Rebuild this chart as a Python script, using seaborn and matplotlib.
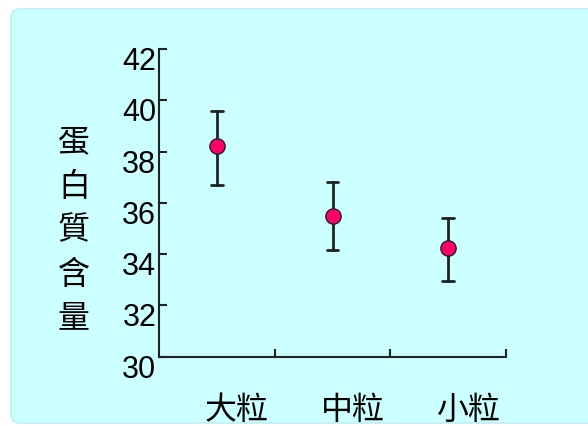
import pandas as pd
import seaborn as sns
import matplotlib.pyplot as plt
from matplotlib.patches import FancyBboxPatch
from matplotlib.transforms import ScaledTranslation

# values
sizes = ['大粒', '中粒', '小粒']
protein_mean = [38.2, 35.5, 34.25]
protein_low = [36.7, 34.15, 32.95]
protein_high = [39.6, 36.8, 35.4]
ylabel_chars = ['蛋', '白', '質', '含', '量']
yticks = [30, 32, 34, 36, 38, 40, 42]

sns.set_theme(style='ticks')
plt.rcParams['font.family'] = ['Noto Sans CJK TC', 'DejaVu Sans']

# long table: low / mean / high per category -> median = mean, min/max = bar ends
rows = []
for s, lo, m, hi in zip(sizes, protein_low, protein_mean, protein_high):
    for v in (lo, m, hi):
        rows.append({'size': s, 'protein': v})
df = pd.DataFrame(rows)

fig = plt.figure(figsize=(5.88, 4.27), dpi=100)
fig.patch.set_facecolor('white')

bg = FancyBboxPatch((0.11, 0.03), 6.0, 4.14,
                    boxstyle='round,pad=0,rounding_size=0.09',
                    transform=fig.dpi_scale_trans,
                    facecolor='#ccffff', edgecolor='#bfeef5', linewidth=1.2,
                    zorder=-10)
fig.add_artist(bg)

ax = fig.add_axes([159 / 588, 69.5 / 427, 347 / 588, 307.5 / 427])
ax.patch.set_alpha(0)

sns.pointplot(data=df, x='size', y='protein', estimator='median',
              errorbar=lambda v: (v.min(), v.max()),
              linestyle='none', marker='o', markersize=11,
              color='#ff0066', markeredgecolor='#222222', markeredgewidth=1,
              capsize=0.1, err_kws={'color': '#222222', 'linewidth': 2, 'zorder': 1},
              zorder=3, ax=ax)

ax.set_xlim(-0.5, 2.5)
ax.set_ylim(30, 42)
ax.set_yticks(yticks)
ax.set_xticks([0.5, 1.5, 2.5], labels=['', '', ''])
ax.set_xticks([0, 1, 2], labels=sizes, minor=True)

ax.tick_params(axis='x', which='major', direction='in', length=6, width=1.5, color='#222222')
ax.tick_params(axis='x', which='minor', length=0, pad=26, labelsize=23, labelcolor='black')
ax.tick_params(axis='y', direction='in', length=6, width=1.5, pad=2, labelsize=22,
               color='#222222', labelcolor='black')

sns.despine(ax=ax)
for side in ['left', 'bottom']:
    ax.spines[side].set_linewidth(1.5)
    ax.spines[side].set_color('#222222')

down = ScaledTranslation(0, -8.5 / 100, fig.dpi_scale_trans)
for lbl in ax.get_yticklabels():
    lbl.set_fontfamily(['Liberation Sans', 'DejaVu Sans'])
    lbl.set_transform(lbl.get_transform() + down)
right = ScaledTranslation(20 / 100, 0, fig.dpi_scale_trans)
for lbl in ax.get_xticklabels(minor=True):
    lbl.set_transform(lbl.get_transform() + right)

ax.set_xlabel('')
ax.set_ylabel('\n'.join(ylabel_chars), rotation=0, fontsize=23, linespacing=1.48,
              va='center', ha='center', color='black')
ax.yaxis.set_label_coords(-0.245, 0.413)

fig.savefig('out.png', dpi=100)
